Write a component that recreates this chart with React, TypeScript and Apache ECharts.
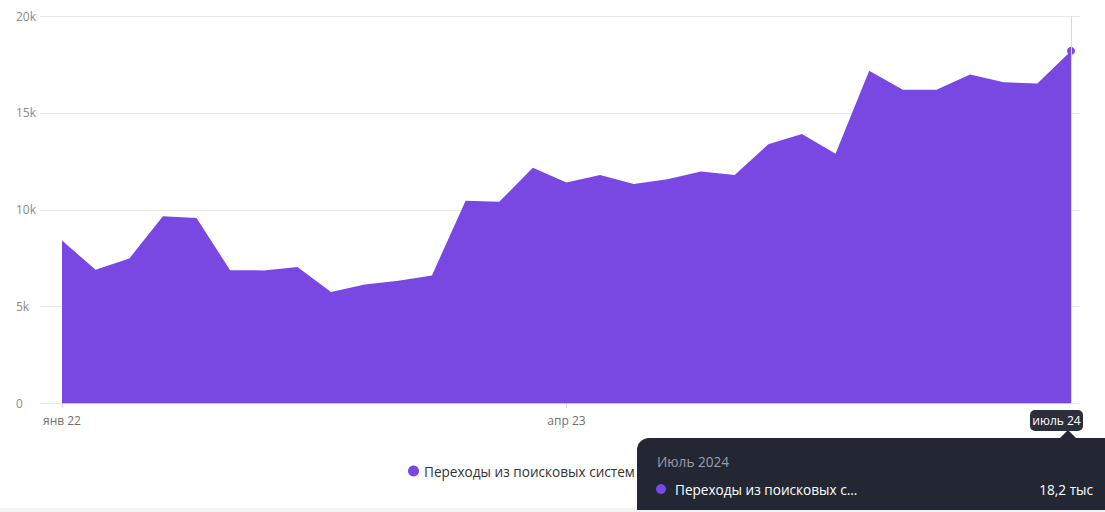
import React, { useEffect, useRef } from "react";
import * as echarts from "echarts";

const months: string[] = [
  "янв 22","фев 22","мар 22","апр 22","май 22","июн 22","июль 22","авг 22","сен 22","окт 22","ноя 22","дек 22",
  "янв 23","фев 23","мар 23","апр 23","май 23","июн 23","июль 23","авг 23","сен 23","окт 23","ноя 23","дек 23",
  "янв 24","фев 24","мар 24","апр 24","май 24","июн 24","июль 24",
];
const visits: number[] = [
  8410, 6900, 7480, 9670, 9570, 6880, 6870, 7040, 5760, 6140, 6330, 6610,
  10470, 10410, 12170, 11410, 11790, 11330, 11570, 11980, 11790, 13380, 13910, 12890,
  17180, 16200, 16200, 16980, 16580, 16510, 18200,
];
const yTicks: number[] = [0, 5000, 10000, 15000, 20000];
const xLabelIdx: number[] = [0, 15, 30];
const seriesName = "Переходы из поисковых систем";
const tooltipTitle = "Июль 2024";
const tooltipName = "Переходы из поисковых с...";
const tooltipValue = "18,2 тыс";
const pointerLabel = "июль 24";

const PURPLE = "#7948e3";
const FONT = "'Open Sans', 'Noto Sans', sans-serif";

export default function App() {
  const ref = useRef<HTMLDivElement>(null);
  useEffect(() => {
    if (!ref.current) return;
    const chart = echarts.init(ref.current, undefined, { renderer: "svg" });
    const last = visits.length - 1;
    const data = visits.map((v, i) =>
      i === last
        ? { value: [i, v], symbol: "circle", symbolSize: 8, itemStyle: { color: PURPLE } }
        : { value: [i, v] }
    );
    chart.setOption({
      animation: false,
      textStyle: { fontFamily: FONT },
      grid: { left: 40, right: 25, top: 16, bottom: 108.5 },
      xAxis: {
        type: "value",
        min: -0.654,
        max: 30.268,
        axisLine: { show: false },
        splitLine: { show: false },
        axisTick: {
          show: true,
          customValues: xLabelIdx.slice(0, 2),
          length: 4,
          lineStyle: { color: "#d6d6d6" },
        },
        axisLabel: {
          customValues: xLabelIdx.slice(0, 2),
          formatter: (v: number) => months[Math.round(v)],
          color: "#6f6f6f",
          fontSize: 12,
          margin: 11,
          fontFamily: FONT,
        },
      },
      yAxis: {
        type: "value",
        min: yTicks[0],
        max: yTicks[yTicks.length - 1],
        interval: 5000,
        axisLine: { show: false },
        axisTick: { show: false },
        splitLine: { lineStyle: { color: "#e8e8e8" } },
        axisLabel: {
          align: "left",
          margin: 24,
          color: "#8a8a8a",
          fontSize: 12,
          fontFamily: FONT,
          formatter: (v: number) => (v === 0 ? "0" : v / 1000 + "k"),
        },
      },
      legend: {
        data: [{ name: seriesName, icon: "circle" }],
        left: 403,
        top: 459,
        itemWidth: 11,
        itemHeight: 11,
        itemGap: 5,
        textStyle: { fontSize: 13.6, color: "#333", fontFamily: FONT },
      },
      series: [
        {
          name: seriesName,
          type: "line",
          data,
          symbol: "none",
          showSymbol: true,
          itemStyle: { color: PURPLE },
          lineStyle: { width: 0, color: PURPLE },
          areaStyle: { color: PURPLE, opacity: 1 },
          z: 3,
          markLine: {
            silent: true,
            symbol: "none",
            label: { show: false },
            lineStyle: { color: "#d9d9d9", type: "solid", width: 1 },
            data: [[{ coord: [last, 0] }, { coord: [last, 20000] }]],
          },
        },
      ],
      graphic: [
        { type: "rect", shape: { x: 0, y: 508, width: 1105, height: 4 }, style: { fill: "#f2f2f4" }, z: 10 },
        { type: "rect", shape: { x: 637, y: 438, width: 520, height: 72, r: [12, 0, 0, 0] }, style: { fill: "#232733" }, z: 20 },
        { type: "polygon", shape: { points: [[1059, 439], [1068, 430], [1077, 439]] }, style: { fill: "#232733" }, z: 20 },
        { type: "rect", shape: { x: 1030, y: 410, width: 53, height: 21, r: 5 }, style: { fill: "#2b2f3b" }, z: 21 },
        {
          type: "text", x: 1056.5, y: 420.5, z: 22,
          style: { text: pointerLabel, fill: "#ffffff", fontSize: 12, fontFamily: FONT, align: "center", verticalAlign: "middle" },
        },
        {
          type: "text", x: 657, y: 461, z: 22,
          style: { text: tooltipTitle, fill: "#9b9ea7", fontSize: 13.6, fontFamily: FONT, verticalAlign: "middle" },
        },
        { type: "circle", shape: { cx: 661, cy: 489, r: 5 }, style: { fill: PURPLE }, z: 22 },
        {
          type: "text", x: 675, y: 489, z: 22,
          style: { text: tooltipName, fill: "#ffffff", fontSize: 13.6, fontFamily: FONT, verticalAlign: "middle" },
        },
        {
          type: "text", x: 1093, y: 489, z: 22,
          style: { text: tooltipValue, fill: "#ffffff", fontSize: 13.6, fontFamily: FONT, align: "right", verticalAlign: "middle" },
        },
      ],
    });
    return () => chart.dispose();
  }, []);
  return (
    <div
      ref={ref}
      style={{ position: "fixed", left: 0, top: 0, width: 1105, height: 512, background: "#fff" }}
    />
  );
}
